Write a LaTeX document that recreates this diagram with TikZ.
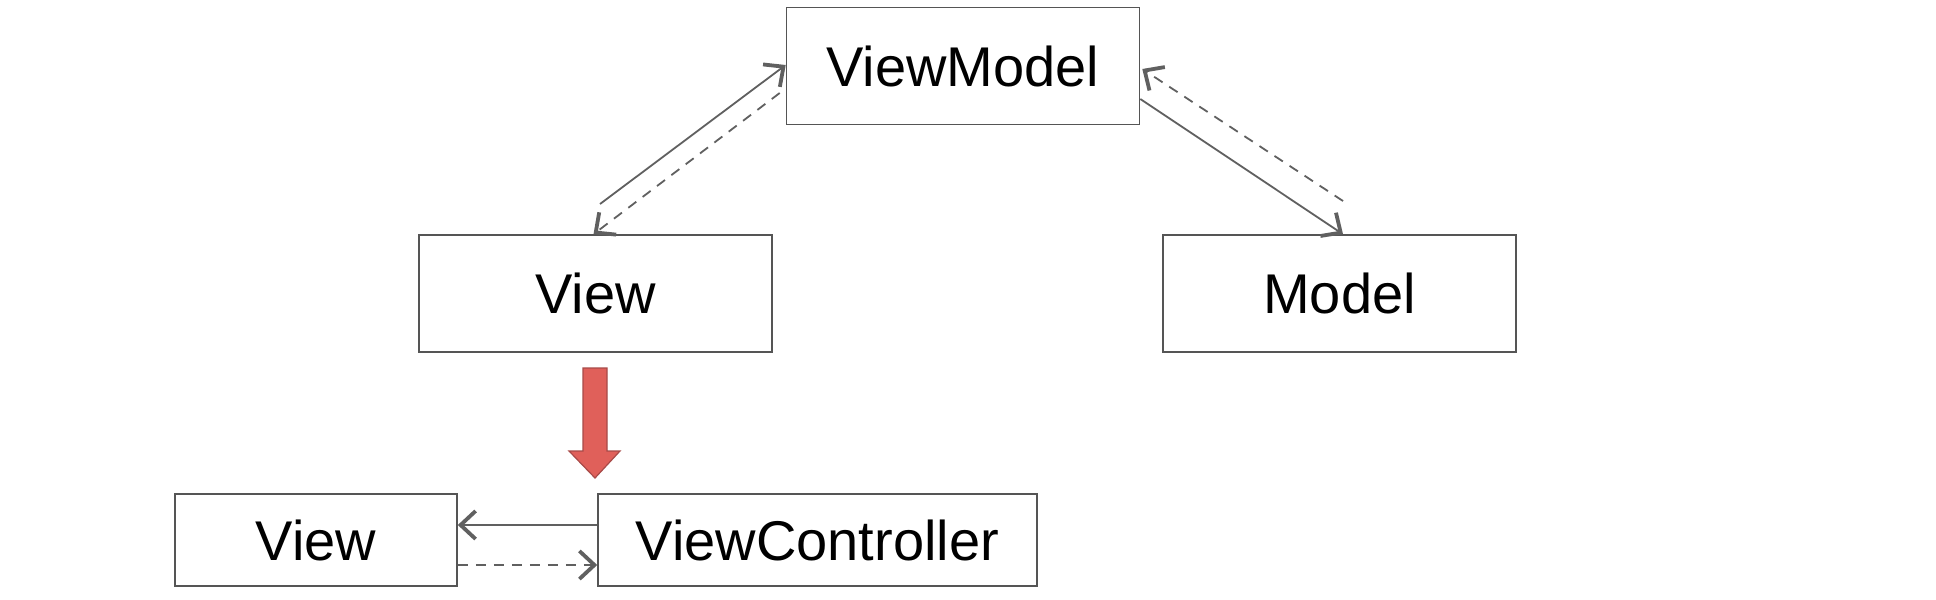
\documentclass[tikz,border=0pt]{standalone}
\usepackage{fontspec}
\setmainfont{Liberation Sans}
\usetikzlibrary{arrows.meta}
\definecolor{lin}{HTML}{606060}
\definecolor{boxc}{HTML}{555555}
\definecolor{redf}{HTML}{E0605A}
\definecolor{redd}{HTML}{A84A48}
\begin{document}
\begin{tikzpicture}[x=0.5pt,y=-0.5pt,
 box/.style={draw=boxc, line width=0.8pt, minimum width=176.5pt, minimum height=58.5pt, inner sep=0pt, font=\fontsize{28}{32}\selectfont},
 smallbox/.style={box, minimum height=46pt},
 conn/.style={draw=lin, line width=0.9pt, -{Straight Barb[length=7.5pt,width=14pt,line width=1.9pt]}},
 dconn/.style={conn, dash pattern=on 5pt off 4pt}]
\useasboundingbox (0,0) rectangle (1936,599);
\fill[white] (0,0) rectangle (1936,599);
\node[box] (vm) at (963,66) {ViewModel};
\node[box] (view) at (595.5,293.5) {View};
\node[box] (model) at (1339.5,293.5) {Model};
\node[smallbox, minimum width=141pt] (view2) at (316,540) {View};
\node[smallbox, minimum width=219.5pt] (vc) at (817.5,540) {ViewController};
\coordinate (a1s) at (600,204);
\coordinate (a2s) at (1343,201);
\draw[conn] (a1s) -- ([yshift=0.5pt]vm.west);
\draw[dconn] ([shift={(-3pt,-13.5pt)}]vm.west) -- ([xshift=-1pt]view.north);
\draw[conn] ([yshift=-16.5pt]vm.east) -- ([xshift=1.75pt]model.north);
\draw[dconn] (a2s) -- ([shift={(1pt,-1.5pt)}]vm.east);
\draw[conn] ([yshift=7.5pt]vc.west) -- ([yshift=7.5pt]view2.east);
\draw[dconn] ([yshift=-12.5pt]view2.east) -- ([yshift=-12.5pt]vc.west);
\draw[fill=redf, draw=redd, line width=0.6pt] (583,368) -- (607,368) -- (607,451) -- (620,451) -- (595,478) -- (569,451) -- (583,451) -- cycle;
\end{tikzpicture}
\end{document}
